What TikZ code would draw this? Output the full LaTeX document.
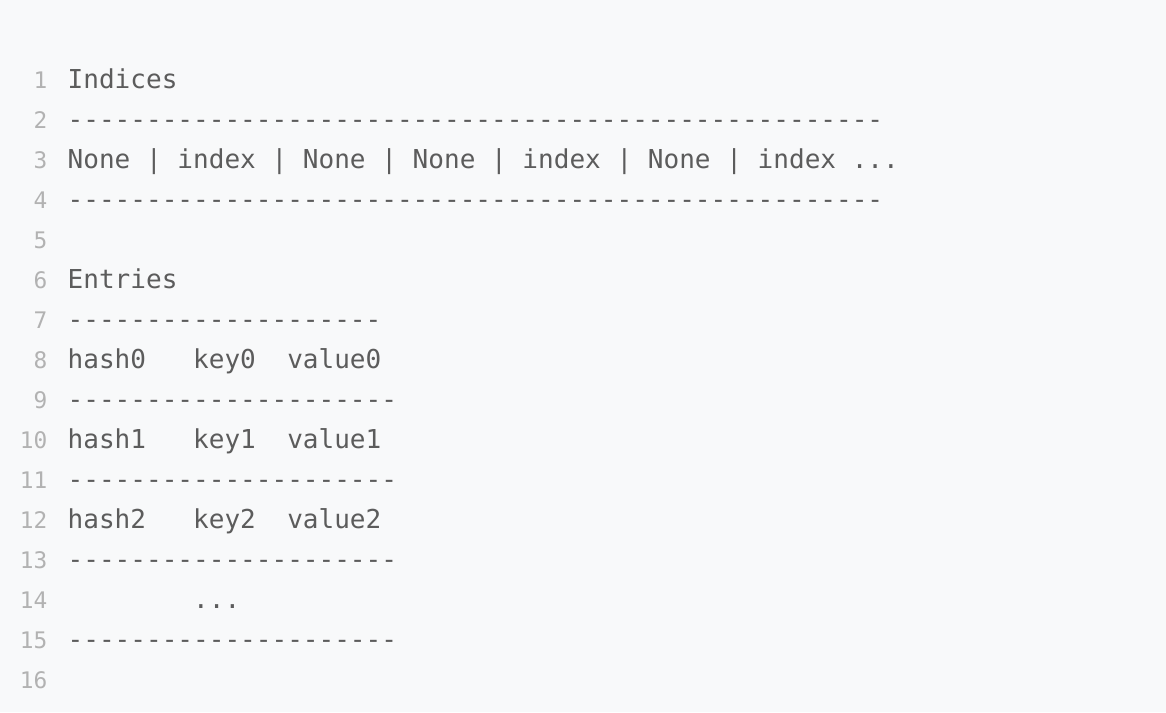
\documentclass[tikz,border=0pt]{standalone}
\usepackage{fontspec}
\newfontfamily\codefont{DejaVu Sans Mono}
\usepackage{tikz}
\usetikzlibrary{positioning}

\definecolor{pagebg}{HTML}{F8F9FA}
\definecolor{codegray}{HTML}{5C5C5C}
\definecolor{numgray}{HTML}{B2B2B2}

% a row of n dashes
\newcommand{\dashes}[1]{\foreach \d in {1,...,#1}{-}}

\begin{document}
\begin{tikzpicture}[
    x=1pt, y=-1pt,
    code/.style={anchor=base west, inner sep=0pt, text=codegray,
      font=\codefont\fontsize{26.05pt}{30pt}\selectfont},
    lineno/.style={anchor=base east, inner sep=0pt, text=numgray,
      font=\codefont\fontsize{22.8pt}{26pt}\selectfont}
  ]

  % Page
  \fill[pagebg] (0,0) rectangle (1166,712);
  \useasboundingbox (0,0) rectangle (1166,712);

  % Line numbers
  \foreach \n in {1,...,16}
    \node[lineno] (ln\n) at (47.5, {88+40*(\n-1)}) {\n};

  % Indices block
  \node[code] (title1) at (67.5,88)  {Indices};
  \node[code] (rule2)  at (67.5,128) {\dashes{52}};
  \node[code] (slots)  at (67.5,168) {None | index | None | None | index | None | index ...};
  \node[code] (rule4)  at (67.5,208) {\dashes{52}};

  % Entries block
  \node[code] (title2) at (67.5,288) {Entries};
  \node[code] (rule7)  at (67.5,328) {\dashes{20}};
  \node[code] (entry0) at (67.5,368) {hash0~~~key0~~value0};
  \node[code] (rule9)  at (67.5,408) {\dashes{21}};
  \node[code] (entry1) at (67.5,448) {hash1~~~key1~~value1};
  \node[code] (rule11) at (67.5,488) {\dashes{21}};
  \node[code] (entry2) at (67.5,528) {hash2~~~key2~~value2};
  \node[code] (rule13) at (67.5,568) {\dashes{21}};
  \node[code] (more)   at (67.5,608) {~~~~~~~~...};
  \node[code] (rule15) at (67.5,648) {\dashes{21}};

\end{tikzpicture}
\end{document}
